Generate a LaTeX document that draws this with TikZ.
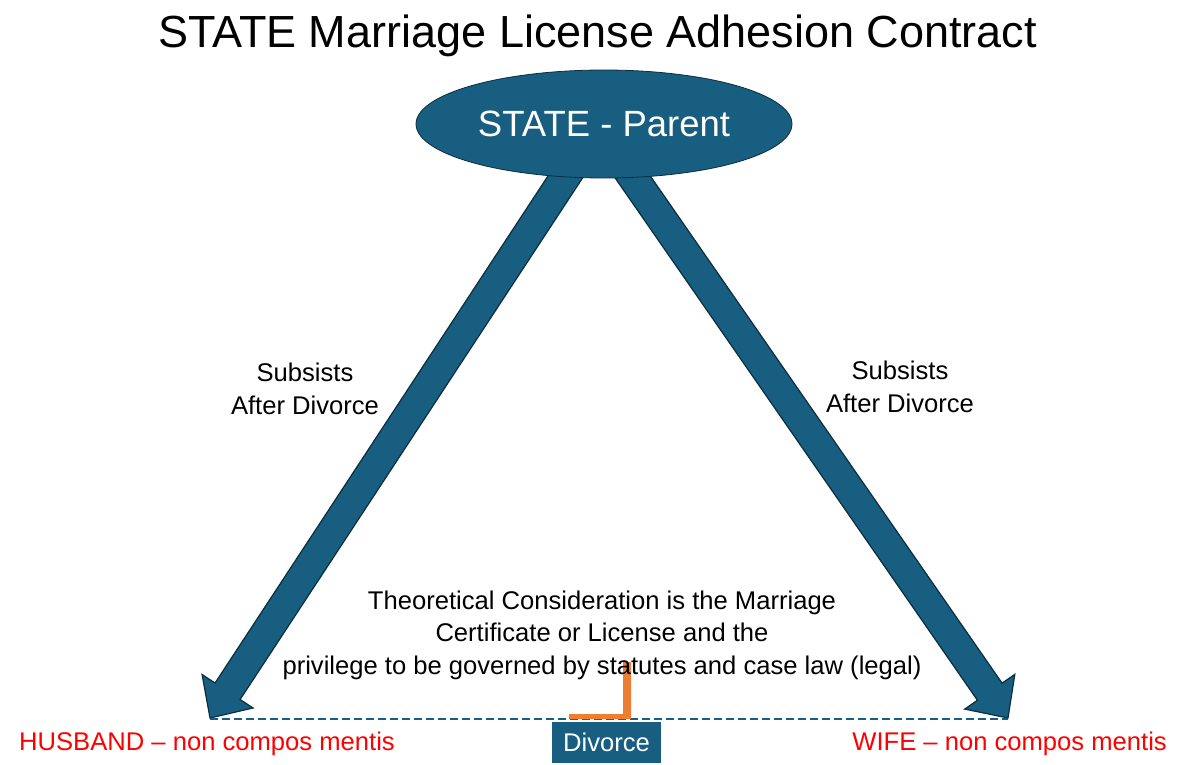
\documentclass[tikz,border=0pt]{standalone}
\usepackage{fontspec}
\setmainfont{Liberation Sans}
\usetikzlibrary{shapes.geometric,calc}
\definecolor{tealA}{RGB}{23,94,128}
\definecolor{darkA}{RGB}{12,45,62}
\definecolor{orangeA}{RGB}{237,125,49}
\definecolor{redA}{RGB}{255,0,0}
\tikzset{
  blockarrow/.style={fill=tealA, draw=darkA, line width=1.2pt, line join=miter},
  bodytext/.style={inner sep=0pt, font=\fontsize{25.6}{32.3}\selectfont},
  redlabel/.style={bodytext, text=redA},
}
\begin{document}
\begin{tikzpicture}[x=1pt,y=-1pt]
\useasboundingbox (0,0) rectangle (1187,765);
% title
\node[inner sep=0pt, anchor=base, font=\fontsize{45}{50}\selectfont] (title) at (597.5,48) {STATE Marriage License Adhesion Contract};
% arrow coordinates
\coordinate (LS) at (583,150);
\coordinate (LT) at (210,718);
\coordinate (RS) at (614,150);
\coordinate (RT) at (1008,718);
\coordinate (LB) at ($(LT)!32pt!(LS)$);
\coordinate (RB) at ($(RT)!32pt!(RS)$);
% left block arrow
\draw[blockarrow] ($(LS)!15pt!90:(LT)$) -- ($(LB)!15pt!90:(LT)$) -- ($(LB)!30.5pt!90:(LT)$) -- (LT)
  -- ($(LB)!30.5pt!-90:(LT)$) -- ($(LB)!15pt!-90:(LT)$) -- ($(LS)!15pt!-90:(LT)$) -- cycle;
% right block arrow
\draw[blockarrow] ($(RS)!15pt!90:(RT)$) -- ($(RB)!15pt!90:(RT)$) -- ($(RB)!30.5pt!90:(RT)$) -- (RT)
  -- ($(RB)!30.5pt!-90:(RT)$) -- ($(RB)!15pt!-90:(RT)$) -- ($(RS)!15pt!-90:(RT)$) -- cycle;
% state ellipse
\node[ellipse, draw=darkA, fill=tealA, line width=0.8pt, minimum width=376pt, minimum height=108pt, inner sep=0pt,
  text=white, font=\fontsize{36.5}{43}\selectfont] (state) at (604,124) {STATE - Parent};
% dashed base line
\coordinate (HL) at (210,719);
\coordinate (WR) at (1008,719);
\draw[tealA, line width=1.6pt, dash pattern=on 7.5pt off 4.5pt] (HL) -- (WR);
% orange bracket
\fill[orangeA] (623,662) -- (631,662) -- (631,719) -- (569,719) -- (569,714) -- (623,714) -- cycle;
% divorce box
\node[fill=tealA, minimum width=109pt, minimum height=41pt, inner sep=0pt, text=white,
  font=\fontsize{25.6}{30}\selectfont] (divorce) at (606.5,742.5) {Divorce};
% labels
\node[bodytext, align=center, anchor=base] (subL) at (305,414) {Subsists\\After Divorce};
\node[bodytext, align=center, anchor=base] (subR) at (900,412) {Subsists\\After Divorce};
\node[bodytext, align=center, anchor=base] (theo) at (602,674) {Theoretical Consideration is the Marriage\\Certificate or License and the\\privilege to be governed by statutes and case law (legal)};
\node[redlabel, anchor=base west] (husband) at (19,750) {HUSBAND – non compos mentis};
\node[redlabel, anchor=base east] (wife) at (1167,750) {WIFE – non compos mentis};
\end{tikzpicture}
\end{document}
